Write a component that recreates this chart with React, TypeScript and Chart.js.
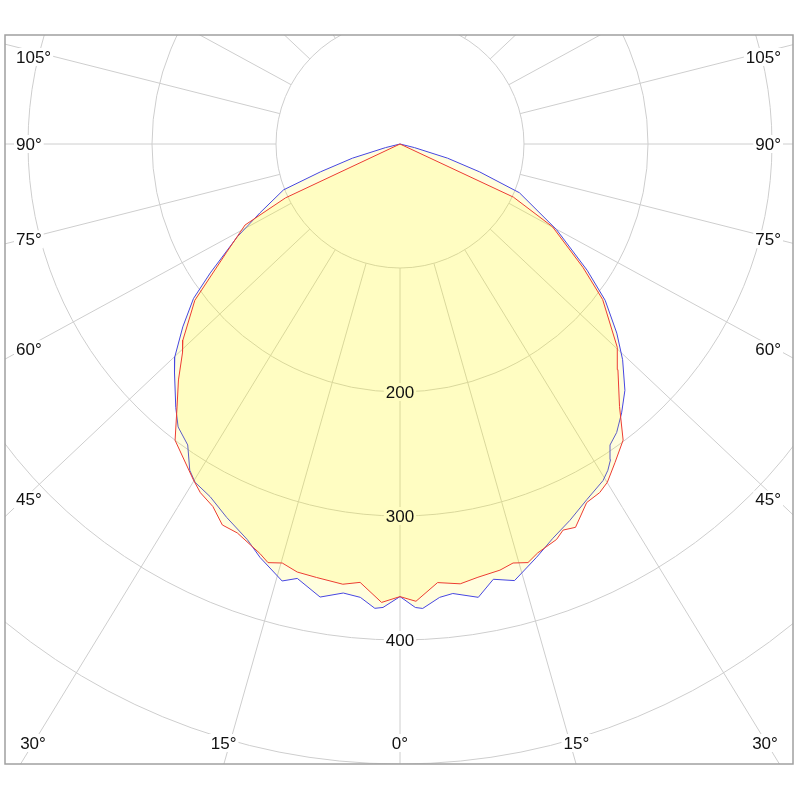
import React, { useEffect, useRef } from "react";
import { Chart, registerables } from "chart.js";

Chart.register(...registerables);

// ---- data (signed angle from nadir in degrees, left side negative; intensity in cd) ----
const blueAngles = [
  -90, -76, -73.4, -70.7, -68.5, -63.8, -60.3, -55.8, -53.2, -49.9, -46.6, -44.6, -40.4, -38.1,
  -35.2, -32.8, -31.2, -28.3, -24.9, -21.1, -18.7, -15.1, -13.3, -10, -7.2, -5, -3.1, -2.1, 0,
  1.9, 2.8, 5, 6.7, 9.8, 12.1, 14.7, 18.3, 21.2, 24.3, 27.7, 31.1, 32.5, 33.7, 34.9, 36.9, 39.5,
  42.4, 45.9, 48.9, 52.7, 56, 61.3, 67.8, 70.7, 73.4, 76, 90,
];
const blueValues = [
  0, 12, 40, 68, 101, 126, 151, 185, 208, 229, 250, 259, 279, 290,
  297, 313, 319, 323, 332, 342, 352, 365, 360, 371, 365, 367, 375, 374, 365,
  374, 375, 367, 365, 371, 359, 364, 351, 341, 333, 324, 317, 312, 306, 296, 291, 281,
  269, 250, 232, 208, 182, 144, 104, 68, 40, 12, 0,
];
const redAngles = [
  -90, -66, -64.8, -62.4, -58, -52.7, -47.9, -46.2, -43.2, -40.3, -37.2, -31.6, -29.8, -27.3,
  -25, -22.7, -18.9, -17.5, -15.7, -13.5, -10.9, -7.4, -5.2, -2.3, 0, 2, 4.9, 7.8, 10.2, 13.2,
  15.1, 17, 18.6, 21.6, 22.9, 24.6, 27.5, 29.8, 31.5, 34, 37, 39.9, 44, 46.9, 52.5, 56, 61.5,
  64.9, 66, 90,
];
const redValues = [
  0, 0, 102, 141, 165, 208, 236, 243, 261, 278, 300, 318, 324, 329,
  339, 340, 349, 354, 351, 355, 356, 358, 355, 370, 365, 369, 355, 358, 355, 353,
  350, 353, 348, 343, 338, 340, 326, 324, 320, 310, 299, 276, 253, 240, 206, 178, 140,
  101, 0, 0,
];
const gridValues = [100, 200, 300, 400, 500, 600];
const valueLabels = [200, 300, 400];
const angleLabels = [0, 15, 30, 45, 60, 75, 90, 105];
const angleLineStep = 15;

// ---- layout constants ----
const CENTER = { x: 400, y: 144 };
const PX_PER_CD = 1.24;
const FRAME = { left: 5, top: 35, right: 793, bottom: 764 };
const LINE_X_STRETCH = 1.06;
const LABEL_HIT = { left: 23, right: 777, bottom: 765 };
const LABEL_CLAMP = { left: 33, right: 765, top: 57, bottom: 743 };
const FONT = '17px "Liberation Sans", Arial, sans-serif';

type Lbl = { text: string; x: number; y: number; align: CanvasTextAlign };

function toXY(angles: number[], values: number[]) {
  return angles.map((a, i) => {
    const t = (a * Math.PI) / 180;
    return { x: values[i] * Math.sin(t), y: -values[i] * Math.cos(t) };
  });
}

function dirFor(deg: number) {
  const t = (deg * Math.PI) / 180;
  const dx = Math.sin(t) * LINE_X_STRETCH;
  const dy = Math.cos(t);
  const n = Math.hypot(dx, dy);
  return { dx: dx / n, dy: dy / n };
}

function geometry(chart: any) {
  const xs = chart.scales.x;
  const ys = chart.scales.y;
  const cx = xs.getPixelForValue(0);
  const cy = ys.getPixelForValue(0);
  const ppc = (xs.getPixelForValue(100) - cx) / 100;
  return { cx, cy, ppc };
}

function buildLabels(chart: any): Lbl[] {
  const { cx, cy, ppc } = geometry(chart);
  const out: Lbl[] = [];
  for (const v of valueLabels) out.push({ text: String(v), x: cx, y: cy + v * ppc, align: "center" });
  for (const a of angleLabels) {
    const signs = a === 0 ? [1] : [-1, 1];
    for (const s of signs) {
      const { dx, dy } = dirFor(a * s);
      let best = Infinity;
      if (dx < -1e-6) best = Math.min(best, (LABEL_HIT.left - cx) / dx);
      if (dx > 1e-6) best = Math.min(best, (LABEL_HIT.right - cx) / dx);
      if (dy > 1e-6) best = Math.min(best, (LABEL_HIT.bottom - cy) / dy);
      let px = cx + dx * best;
      let py = cy + dy * best;
      px = Math.max(LABEL_CLAMP.left, Math.min(LABEL_CLAMP.right, px));
      py = Math.max(LABEL_CLAMP.top, Math.min(LABEL_CLAMP.bottom, py));
      const text = a + "°";
      if (py >= LABEL_CLAMP.bottom - 0.01) out.push({ text, x: px, y: py, align: "center" });
      else if (dx < 0) out.push({ text, x: FRAME.left + 11, y: py, align: "left" });
      else out.push({ text, x: FRAME.right - 12, y: py, align: "right" });
    }
  }
  return out;
}

const polarGrid = {
  id: "polarGrid",
  beforeDatasetsDraw(chart: any) {
    const { ctx, chartArea } = chart;
    const { cx, cy, ppc } = geometry(chart);
    ctx.save();
    ctx.beginPath();
    ctx.rect(chartArea.left, chartArea.top, chartArea.right - chartArea.left, chartArea.bottom - chartArea.top);
    ctx.clip();
    ctx.strokeStyle = "#cecece";
    ctx.lineWidth = 1;
    for (const v of gridValues) {
      ctx.beginPath();
      ctx.arc(cx, cy, v * ppc, 0, Math.PI * 2);
      ctx.stroke();
    }
    const r0 = gridValues[0] * ppc;
    for (let a = -180; a < 180; a += angleLineStep) {
      const { dx, dy } = dirFor(a);
      ctx.beginPath();
      ctx.moveTo(cx + dx * r0, cy + dy * r0);
      ctx.lineTo(cx + dx * 3000, cy + dy * 3000);
      ctx.stroke();
    }
    ctx.font = FONT;
    ctx.fillStyle = "#ffffff";
    for (const l of buildLabels(chart)) {
      const w = ctx.measureText(l.text).width;
      let left = l.x - w / 2;
      if (l.align === "left") left = l.x;
      if (l.align === "right") left = l.x - w;
      ctx.fillRect(left - 2, l.y - 9, w + 4, 18);
    }
    ctx.restore();
  },
  afterDatasetsDraw(chart: any) {
    const { ctx } = chart;
    ctx.save();
    ctx.font = FONT;
    ctx.textBaseline = "middle";
    ctx.fillStyle = "#111111";
    for (const l of buildLabels(chart)) {
      ctx.textAlign = l.align;
      ctx.fillText(l.text, l.x, l.y + 1);
    }
    ctx.restore();
  },
  afterDraw(chart: any) {
    const { ctx, chartArea } = chart;
    ctx.save();
    ctx.strokeStyle = "#a0a0a0";
    ctx.lineWidth = 1.5;
    ctx.strokeRect(chartArea.left, chartArea.top, chartArea.right - chartArea.left, chartArea.bottom - chartArea.top);
    ctx.restore();
  },
};

export default function App() {
  const ref = useRef<HTMLCanvasElement | null>(null);
  useEffect(() => {
    document.body.style.margin = "0";
    const canvas = ref.current;
    if (!canvas) return;
    const chart = new Chart(canvas, {
      type: "line",
      data: {
        datasets: [
          {
            label: "C90-C270",
            data: toXY(redAngles, redValues),
            borderColor: "rgb(236,60,50)",
            backgroundColor: "rgba(255,250,0,0.13)",
            borderWidth: 1,
            fill: "shape",
            pointRadius: 0,
            tension: 0,
          },
          {
            label: "C0-C180",
            data: toXY(blueAngles, blueValues),
            borderColor: "rgb(70,70,225)",
            backgroundColor: "rgba(255,250,0,0.13)",
            borderWidth: 1,
            fill: "shape",
            pointRadius: 0,
            tension: 0,
          },
        ],
      },
      options: {
        responsive: false,
        animation: false,
        events: [],
        layout: {
          padding: { left: FRAME.left, top: FRAME.top, right: 800 - FRAME.right, bottom: 800 - FRAME.bottom },
        },
        plugins: { legend: { display: false }, tooltip: { enabled: false } },
        scales: {
          x: {
            type: "linear",
            display: false,
            min: (FRAME.left - CENTER.x) / PX_PER_CD,
            max: (FRAME.right - CENTER.x) / PX_PER_CD,
          },
          y: {
            type: "linear",
            display: false,
            min: -(FRAME.bottom - CENTER.y) / PX_PER_CD,
            max: (CENTER.y - FRAME.top) / PX_PER_CD,
          },
        },
      } as any,
      plugins: [polarGrid as any],
    });
    return () => chart.destroy();
  }, []);
  return (
    <div style={{ width: 800, height: 800, background: "#fff" }}>
      <canvas ref={ref} width={800} height={800} style={{ display: "block", width: 800, height: 800 }} />
    </div>
  );
}
